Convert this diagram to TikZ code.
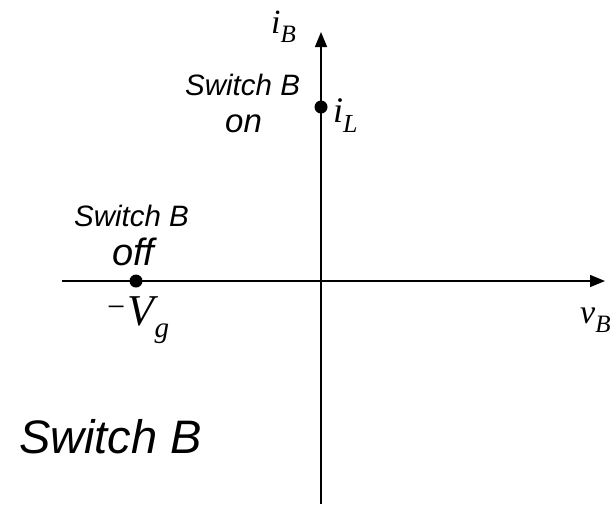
\documentclass[tikz,border=0pt]{standalone}
\usepackage{fontspec}
\setmainfont{Liberation Serif}
\newfontfamily\hv{Liberation Sans}
\usetikzlibrary{arrows.meta}
\tikzset{
  axis/.style={line width=1.5pt,-{Triangle[length=15pt,width=12pt]}},
  dotpt/.style={circle,fill=black,inner sep=0pt,minimum size=13pt},
  lbl/.style={inner sep=0pt,anchor=base west},
}
\newcommand{\myvar}[4]{{\fontsize{#3}{#3}\selectfont\itshape #1\raisebox{-0.28em}{\fontsize{#4}{#4}\selectfont #2}}}
\begin{document}
\begin{tikzpicture}[x=1pt,y=-1pt]
\useasboundingbox (0,0) rectangle (616,504);
\coordinate (vb) at (321,504);
\coordinate (vt) at (321,32);
\coordinate (hl) at (62,281);
\coordinate (hr) at (605,281);
\draw[axis] (vb) -- (vt);
\draw[axis] (hl) -- (hr);
\node[dotpt] (dl) at (321,107) {};
\node[dotpt] (dv) at (136,281) {};
\node[lbl] (iB) at (271,33) {\myvar{i}{B}{34}{25}};
\node[lbl] (iL) at (333,122) {\myvar{i}{L}{36}{26}};
\node[lbl] (Vg) at (105,325) {\myvar{\raisebox{7.5pt}{\fontsize{32}{32}\selectfont −}\kern1pt V}{g}{44}{29}};
\node[lbl] (vB) at (580,323) {\myvar{v}{B}{34}{25}};
\node[lbl] (s1) at (185,95) {\hv\itshape\fontsize{29.5}{29.5}\selectfont Switch B};
\node[lbl] (on) at (225,132) {\hv\itshape\fontsize{33}{33}\selectfont on};
\node[lbl] (s2) at (74,226) {\hv\itshape\fontsize{29.5}{29.5}\selectfont Switch B};
\node[lbl] (off) at (112,265) {\hv\itshape\fontsize{38}{38}\selectfont off};
\node[lbl] (s3) at (19,453) {\hv\itshape\fontsize{47}{47}\selectfont Switch B};
\end{tikzpicture}
\end{document}
